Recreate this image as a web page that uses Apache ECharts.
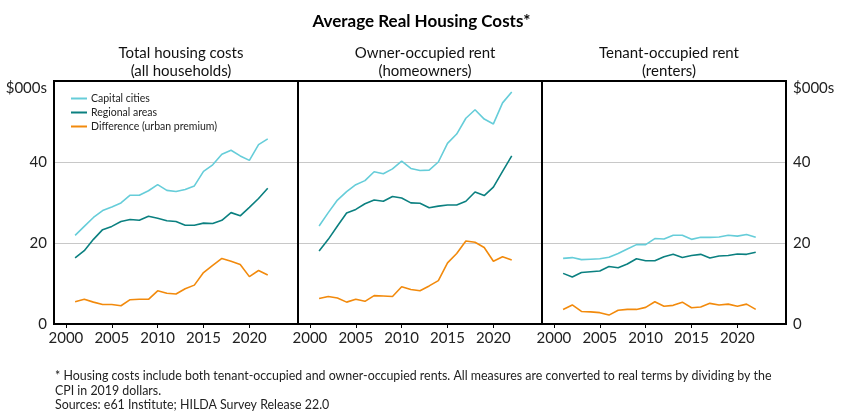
<!DOCTYPE html>
<html>
<head>
<meta charset="utf-8">
<script src="https://cdn.jsdelivr.net/npm/echarts@6/dist/echarts.min.js"></script>
<style>
html,body{margin:0;padding:0;background:#fff;}
#c{width:843px;height:419px;}
</style>
</head>
<body>
<div id="c"></div>
<script>
const years = [2001,2002,2003,2004,2005,2006,2007,2008,2009,2010,2011,2012,2013,2014,2015,2016,2017,2018,2019,2020,2021,2022];
const xTickYears = [2000,2005,2010,2015,2020];
const yTicks = [0,20,40,60];
const panelTitles = ['Total housing costs\n(all households)','Owner-occupied rent\n(homeowners)','Tenant-occupied rent\n(renters)'];
const seriesNames = ['Capital cities','Regional areas','Difference (urban premium)'];

// Panel 1: Total housing costs
const totalCapital    = [21.9,24.1,26.3,28.0,28.9,29.9,31.8,31.8,32.9,34.4,33.0,32.7,33.2,34.1,37.7,39.3,41.9,42.9,41.5,40.4,44.3,45.7];
const totalRegional   = [16.3,18.1,20.9,23.3,24.1,25.3,25.8,25.6,26.6,26.1,25.5,25.3,24.4,24.4,24.9,24.8,25.6,27.5,26.7,28.8,31.0,33.5];
const totalDiff       = [5.5,6.1,5.4,4.8,4.8,4.5,6.0,6.1,6.1,8.2,7.6,7.4,8.7,9.6,12.7,14.5,16.2,15.5,14.7,11.7,13.2,12.1];
// Panel 2: Owner-occupied rent
const ownerCapital    = [24.2,27.5,30.6,32.7,34.4,35.4,37.6,37.1,38.3,40.2,38.4,37.9,38.0,40.0,44.6,46.9,50.8,52.9,50.6,49.4,54.6,57.3];
const ownerRegional   = [18.0,20.9,24.2,27.4,28.3,29.7,30.6,30.3,31.5,31.1,29.9,29.8,28.7,29.1,29.4,29.4,30.3,32.6,31.7,33.8,37.7,41.5];
const ownerDiff       = [6.3,6.8,6.4,5.4,6.1,5.6,7.0,6.9,6.8,9.2,8.5,8.2,9.4,10.7,15.1,17.4,20.5,20.2,18.9,15.5,16.6,15.8];
// Panel 3: Tenant-occupied rent
const tenantCapital   = [16.2,16.4,15.9,16.0,16.1,16.5,17.4,18.5,19.6,19.6,21.1,21.0,21.9,21.9,20.9,21.4,21.4,21.5,21.9,21.7,22.1,21.4];
const tenantRegional  = [12.5,11.6,12.7,12.9,13.1,14.2,13.9,14.8,16.1,15.6,15.6,16.6,17.2,16.4,16.9,17.2,16.3,16.8,16.9,17.3,17.2,17.7];
const tenantDiff      = [3.6,4.7,3.1,3.0,2.8,2.2,3.4,3.6,3.6,4.1,5.5,4.4,4.6,5.4,4.0,4.2,5.1,4.7,4.9,4.4,4.9,3.6];

const panels = [
  [totalCapital,totalRegional,totalDiff],
  [ownerCapital,ownerRegional,ownerDiff],
  [tenantCapital,tenantRegional,tenantDiff]
];
const colors = ['#66cdd9','#0b8080','#f28a0c'];
const FONT = 'Lato';

const gridL = [54,298,542];
const gridW = 244;
const gridTop = 81, gridBottom = 95; // bottom edge at 324

const grids = [], xAxes = [], yAxes = [], series = [], titles = [];
titles.push({text:'Average Real Housing Costs*', left:'center', top:8,
  textStyle:{fontFamily:FONT,fontSize:17,fontWeight:'bold',color:'#000'}});
panelTitles.forEach((t,i)=>{
  titles.push({text:t, left:gridL[i]+gridW/2, top:39, textAlign:'center',
    textStyle:{fontFamily:FONT,fontSize:15,fontWeight:'normal',color:'#111',lineHeight:18}});
});

panels.forEach((p,i)=>{
  grids.push({left:gridL[i], width:gridW, top:gridTop, bottom:gridBottom, show:false});
  xAxes.push({type:'value', gridIndex:i, min:1998.7, max:2025.3,
    axisLine:{show:true,onZero:false,lineStyle:{color:'#000',width:2}},
    axisTick:{show:true,length:4,customValues:xTickYears,lineStyle:{color:'#000',width:1}},
    axisLabel:{customValues:xTickYears,margin:7,fontFamily:FONT,fontSize:15,color:'#222',formatter:v=>String(v)},
    splitLine:{show:false}
  });
  yAxes.push({type:'value', gridIndex:i, min:0, max:60, interval:20,
    position: i===2 ? 'right':'left',
    axisLine:{show:false}, axisTick:{show:false},
    axisLabel:{show: i!==1, margin:7, fontFamily:FONT, fontSize:15, color:'#222',
      formatter:v=> v===60 ? '{u|$000s}' : String(v),
      rich:{u:{fontFamily:FONT,fontSize:15,color:'#222',padding:[14,0,0,0]}}},
    splitLine:{show:true,lineStyle:{color:'#c8c8c8',width:1}}
  });
  p.forEach((vals,k)=>{
    series.push({name:seriesNames[k], type:'line', xAxisIndex:i, yAxisIndex:i,
      data: years.map((y,j)=>[y,vals[j]]), symbol:'none',
      lineStyle:{color:colors[k],width:1.6}, itemStyle:{color:colors[k]}, z:3});
  });
});

const chart = echarts.init(document.getElementById('c'),null,{renderer:'canvas'});
chart.setOption({
  animation:false,
  backgroundColor:'#fff',
  title:titles,
  grid:grids, xAxis:xAxes, yAxis:yAxes, series:series,
  legend:{data:seriesNames, orient:'vertical', left:66, top:88, itemGap:3,
    icon:'rect', itemWidth:16, itemHeight:2,
    textStyle:{fontFamily:FONT,fontSize:10.5,color:'#222',padding:[0,0,0,-1]}},
  graphic:[
    ...gridL.map(l=>({type:'rect', shape:{x:l,y:gridTop,width:gridW,height:324-gridTop},
      style:{fill:null,stroke:'#000',lineWidth:2}, z:10, silent:true})),
    {type:'text', left:55, top:369, style:{text:'* Housing costs include both tenant-occupied and owner-occupied rents. All measures are converted to real terms by dividing by the\nCPI in 2019 dollars.\nSources: e61 Institute; HILDA Survey Release 22.0',
      font:'12.4px Lato', fill:'#222', lineHeight:14.5}}
  ]
});
</script>
</body>
</html>
